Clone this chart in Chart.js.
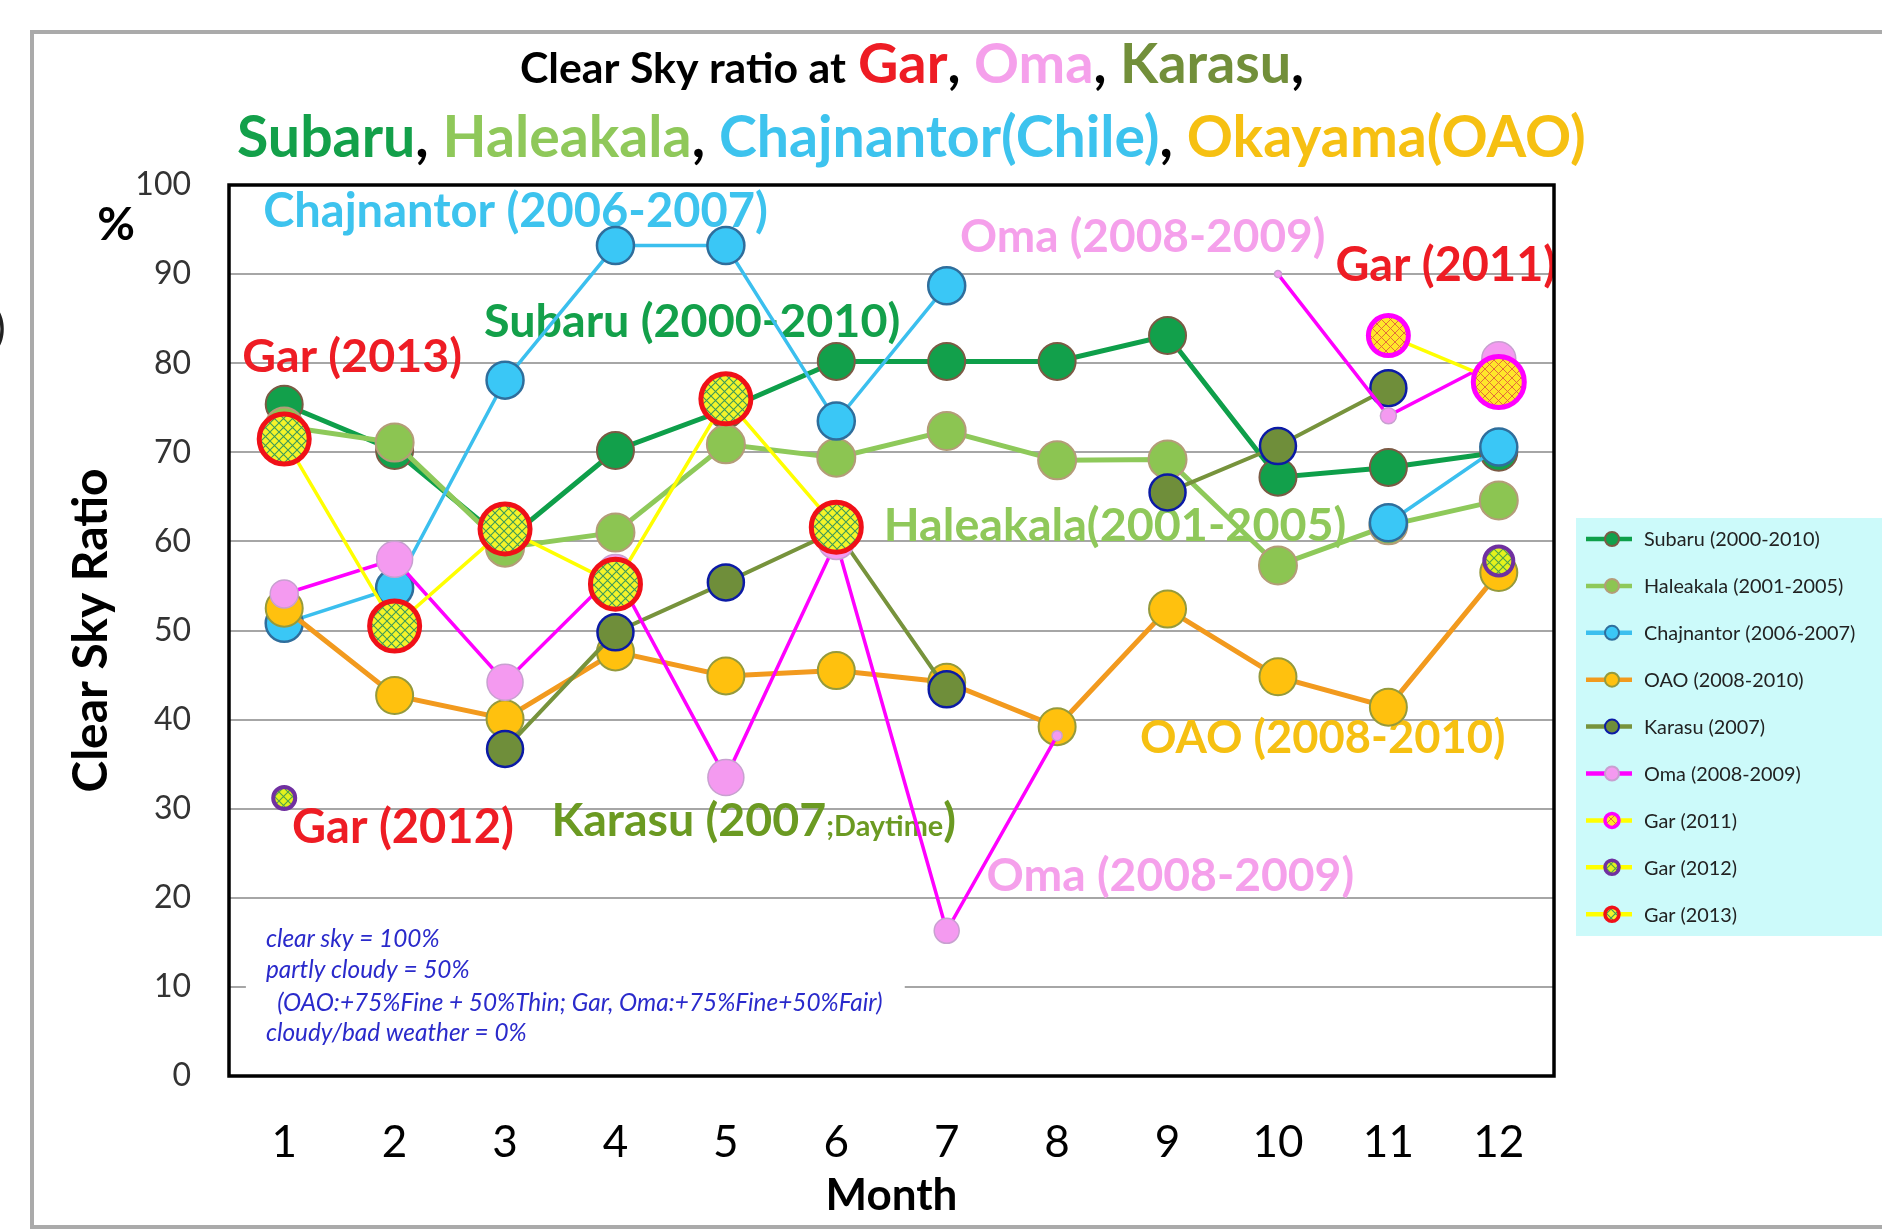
<!DOCTYPE html>
<html>
<head>
<meta charset="utf-8">
<title>Clear Sky ratio</title>
<script src="https://cdn.jsdelivr.net/npm/chart.js@4.4.1/dist/chart.umd.min.js"></script>
<style>
  html, body { margin: 0; padding: 0; background: #fff; }
  canvas { display: block; }
</style>
</head>
<body>
<canvas id="chart" width="1882" height="1230"></canvas>
<script>
/* globals Chart:false */
const months = ['1', '2', '3', '4', '5', '6', '7', '8', '9', '10', '11', '12'];

const subaru     = [75.4, 70.2, 60.0, 70.2, 74.8, 80.2, 80.2, 80.2, 83.1, 67.2, 68.3, 70.0];
const haleakala  = [72.9, 71.1, 59.3, 61.0, 70.9, 69.4, 72.4, 69.1, 69.2, 57.3, 61.8, 64.6];
const chajnantor = [50.8, 54.8, 78.1, 93.2, 93.2, 73.5, 88.7, null, null, null, 62.1, 70.6];
const oao        = [52.5, 42.7, 40.1, 47.6, 44.9, 45.5, 44.2, 39.2, 52.4, 44.8, 41.4, 56.5];
const karasu     = [null, null, 36.7, 49.8, 55.4, 61.2, 43.4, null, 65.5, 70.7, 77.2, null];
const oma        = [54.1, 58.0, 44.2, 56.5, 33.5, 60.0, 16.3, 38.2, null, 90.0, 74.1, 80.5];
const gar2011    = [null, null, null, null, null, null, null, null, null, null, 83.1, 77.9];
const gar2012    = [31.2, null, null, null, null, null, null, null, null, null, null, 57.8];
const gar2013    = [71.5, 50.5, 61.4, 55.2, 76.0, 61.6, null, null, null, null, null, null];

const canvas = document.getElementById('chart');
const ctx0 = canvas.getContext('2d');

// text size that makes a string as wide as it is in the picture
function fit(text, font, width) {
	ctx0.font = font.replace('{s}', 100);
	return 100 * width / ctx0.measureText(text).width;
}

function hatch(bg, fg, w) {
	let c = document.createElement('canvas');
	c.width = 9;
	c.height = 9;
	let g = c.getContext('2d');
	g.fillStyle = bg;
	g.fillRect(0, 0, 9, 9);
	g.strokeStyle = fg;
	g.lineWidth = w;
	g.beginPath();
	g.moveTo(0, 0); g.lineTo(9, 9);
	g.moveTo(9, 0); g.lineTo(0, 9);
	g.stroke();
	return ctx0.createPattern(c, 'repeat');
}

// in-plot labels, anchored in month / percent units
const labels = [
	{ text: 'Chajnantor (2006-2007)', color: '#3DC3EE', x0: 0.81, x1: 5.38, y: 95.3 },
	{ text: 'Subaru (2000-2010)', color: '#13A04A', x0: 2.81, x1: 6.58, y: 82.9 },
	{ text: 'Gar (2013)', color: '#EE1C24', x0: 0.62, x1: 2.61, y: 79.0 },
	{ text: 'Oma (2008-2009)', color: '#F5A0EB', x0: 7.12, x1: 10.43, y: 92.5 },
	{ text: 'Gar (2011)', color: '#EE1C24', x0: 10.52, x1: 12.52, y: 89.2 },
	{ text: 'Haleakala(2001-2005)', color: '#8FC85A', x0: 6.43, x1: 10.62, y: 60.0 },
	{ text: 'OAO (2008-2010)', color: '#F6C012', x0: 8.75, x1: 12.06, y: 36.2 },
	{ text: 'Gar (2012)', color: '#EE1C24', x0: 1.07, x1: 3.08, y: 26.1 },
	{ text: 'Oma (2008-2009)', color: '#F5A0EB', x0: 7.36, x1: 10.69, y: 20.8 }
];

const noteLines = [
	'clear sky = 100%',
	'partly cloudy = 50%',
	'  (OAO:+75%Fine + 50%Thin; Gar, Oma:+75%Fine+50%Fair)',
	'cloudy/bad weather = 0%'
];
const noteY = [14.5, 11.05, 7.35, 3.95];

function series(label, data, o) {
	return Object.assign({ label: label, data: data, tension: 0, spanGaps: false, fill: false }, o);
}

const datasets = [
	series('Subaru (2000-2010)', subaru, {
		borderColor: '#0E9F4A', borderWidth: 5, pointRadius: 18.5,
		pointBackgroundColor: '#12A04B', pointBorderColor: '#7B5A44', pointBorderWidth: 2, order: 9
	}),
	series('Haleakala (2001-2005)', haleakala, {
		borderColor: '#8EC95A', borderWidth: 5, pointRadius: 19,
		pointBackgroundColor: '#8CC552', pointBorderColor: '#B49C78', pointBorderWidth: 2, order: 8
	}),
	series('Chajnantor (2006-2007)', chajnantor, {
		borderColor: '#3BBFEE', borderWidth: 3.5, pointRadius: 18.5,
		pointBackgroundColor: '#3AC7F6', pointBorderColor: '#2F6E9C', pointBorderWidth: 2.5, order: 7
	}),
	series('OAO (2008-2010)', oao, {
		borderColor: '#F29A1E', borderWidth: 5, pointRadius: 18.5,
		pointBackgroundColor: '#FFC10E', pointBorderColor: '#959A3C', pointBorderWidth: 2, order: 6
	}),
	series('Karasu (2007)', karasu, {
		borderColor: '#77933C', borderWidth: 4, pointRadius: 18,
		pointBackgroundColor: '#6F8E3A', pointBorderColor: '#0B1AA5', pointBorderWidth: 2.5, order: 5
	}),
	series('Oma (2008-2009)', oma, {
		borderColor: '#FF00FF', borderWidth: 3.5, pointRadius: [14, 18, 18, 18, 18, 18, 12.5, 5, 0, 3.5, 8, 17],
		pointBackgroundColor: '#F49AF0', pointBorderColor: '#C8A0D0', pointBorderWidth: 1.5, order: 4
	}),
	series('Gar (2011)', gar2011, {
		borderColor: '#FFFF00', borderWidth: 3.5, pointRadius: [0, 0, 0, 0, 0, 0, 0, 0, 0, 0, 20, 25.5],
		pointBackgroundColor: hatch('#FFE62A', '#E0603C', 0.9), pointBorderColor: '#FF00FF', pointBorderWidth: 5,
		legendBorder: 3.5, order: 3
	}),
	series('Gar (2012)', gar2012, {
		borderColor: '#FFFF00', borderWidth: 3.5, showLine: false,
		pointRadius: [11, 0, 0, 0, 0, 0, 0, 0, 0, 0, 0, 14.5],
		pointBackgroundColor: hatch('#E4F21C', '#4FA24A', 1.1), pointBorderColor: '#7030A0', pointBorderWidth: 4,
		legendBorder: 3.5, order: 2
	}),
	series('Gar (2013)', gar2013, {
		borderColor: '#FFFF00', borderWidth: 3.5, pointRadius: 25,
		pointBackgroundColor: hatch('#F4F42A', '#3C9A5A', 1.1), pointBorderColor: '#F01018', pointBorderWidth: 5,
		legendBorder: 3.5, order: 1
	})
];

function drawRun(ctx, parts, x, y, font) {
	ctx.font = font;
	parts.forEach(([t, c]) => {
		ctx.fillStyle = c;
		ctx.fillText(t, x, y);
		x += ctx.measureText(t).width;
	});
}

const backdrop = {
	id: 'backdrop',
	beforeDraw(chart) {
		const ctx = chart.ctx;
		ctx.save();
		ctx.fillStyle = '#fff';
		ctx.fillRect(0, 0, chart.width, chart.height);
		ctx.strokeStyle = '#AAAAAA';
		ctx.lineWidth = 4;
		ctx.beginPath();
		ctx.moveTo(chart.width, 32);
		ctx.lineTo(32, 32);
		ctx.lineTo(32, 1227);
		ctx.lineTo(chart.width, 1227);
		ctx.stroke();
		ctx.fillStyle = '#222';
		ctx.font = '44px Lato';
		ctx.textBaseline = 'alphabetic';
		ctx.fillText(')', -6, 343);

		// two line title, coloured by site
		let s1 = fit('Clear Sky ratio at', 'bold {s}px Lato', 326);
		ctx.font = `bold ${s1}px Lato`;
		ctx.fillStyle = '#000';
		ctx.fillText('Clear Sky ratio at', 520, 83);
		let s2 = fit('Gar, Oma, Karasu,', 'bold {s}px Lato', 444);
		drawRun(ctx, [['Gar', '#EE1C24'], [', ', '#000'], ['Oma', '#F5A0EB'], [', ', '#000'],
			['Karasu', '#728F3A'], [',', '#000']], 858, 83, `bold ${s2}px Lato`);
		let s3 = fit('Subaru, Haleakala, Chajnantor(Chile), Okayama(OAO)', 'bold {s}px Lato', 1349);
		drawRun(ctx, [['Subaru', '#13A04A'], [', ', '#000'], ['Haleakala', '#8FC85A'], [', ', '#000'],
			['Chajnantor(Chile)', '#3DC3EE'], [', ', '#000'], ['Okayama(OAO)', '#F6C012']], 237, 157, `bold ${s3}px Lato`);

		const ca = chart.chartArea;
		ctx.fillStyle = '#000';
		ctx.font = 'bold 46px Lato';
		ctx.textAlign = 'center';
		ctx.fillText('%', ca.left - 113, ca.top + 55);
		ctx.restore();
	}
};

const plotExtras = {
	id: 'plotExtras',
	beforeDatasetsDraw(chart) {
		const ctx = chart.ctx;
		const xs = chart.scales.x, ys = chart.scales.y;
		const ca = chart.chartArea;
		ctx.save();
		ctx.textBaseline = 'alphabetic';

		labels.forEach(l => {
			let x0 = xs.getPixelForValue(l.x0 - 1), x1 = xs.getPixelForValue(l.x1 - 1);
			let s = fit(l.text, 'bold {s}px Lato', x1 - x0);
			ctx.font = `bold ${s}px Lato`;
			ctx.fillStyle = l.color;
			ctx.fillText(l.text, x0, ys.getPixelForValue(l.y));
		});

		// Karasu label with the small ";Daytime"
		let kx = xs.getPixelForValue(3.42 - 1), kx1 = xs.getPixelForValue(5.91 - 1);
		let ky = ys.getPixelForValue(26.9);
		let ks = fit('Karasu (2007', 'bold {s}px Lato', kx1 - kx);
		ctx.fillStyle = '#6B9A22';
		ctx.font = `bold ${ks}px Lato`;
		ctx.fillText('Karasu (2007', kx, ky);
		kx += ctx.measureText('Karasu (2007').width;
		ctx.font = `bold ${ks * 0.62}px Lato`;
		ctx.fillText(';Daytime', kx, ky);
		kx += ctx.measureText(';Daytime').width;
		ctx.font = `bold ${ks}px Lato`;
		ctx.fillText(')', kx, ky);

		// note box
		let bx0 = xs.getPixelForValue(0.653 - 1), bx1 = xs.getPixelForValue(6.62 - 1);
		let by0 = ys.getPixelForValue(17.5), by1 = ys.getPixelForValue(1.5);
		ctx.fillStyle = '#fff';
		ctx.fillRect(bx0, by0, bx1 - bx0, by1 - by0);
		let nx = xs.getPixelForValue(0.834 - 1);
		let ns = fit(noteLines[2], 'italic {s}px Lato', xs.getPixelForValue(6.42 - 1) - nx);
		ctx.font = `italic ${ns}px Lato`;
		ctx.fillStyle = '#2A2ACB';
		noteLines.forEach((t, i) => ctx.fillText(t, nx, ys.getPixelForValue(noteY[i])));

		ctx.strokeStyle = '#000';
		ctx.lineWidth = 3.5;
		ctx.strokeRect(ca.left, ca.top, ca.right - ca.left, ca.bottom - ca.top);
		ctx.restore();
	}
};

const legendBox = {
	id: 'legendBox',
	afterDraw(chart) {
		const ctx = chart.ctx;
		const left = chart.chartArea.right + 22;
		ctx.save();
		ctx.fillStyle = '#CCFAFA';
		ctx.fillRect(left, 518, chart.width - left, 418);
		let s = fit('Subaru (2000-2010)', '{s}px Lato', 176);
		ctx.font = `${s}px Lato`;
		ctx.textBaseline = 'middle';
		chart.data.datasets.forEach((ds, i) => {
			let y = 539 + i * 46.9;
			ctx.strokeStyle = ds.borderColor;
			ctx.lineWidth = 4.5;
			ctx.beginPath();
			ctx.moveTo(left + 10, y);
			ctx.lineTo(left + 56, y);
			ctx.stroke();
			ctx.beginPath();
			ctx.arc(left + 36, y, 7, 0, 2 * Math.PI);
			ctx.fillStyle = ds.pointBackgroundColor;
			ctx.fill();
			ctx.lineWidth = ds.legendBorder || 2;
			ctx.strokeStyle = ds.pointBorderColor;
			ctx.stroke();
			ctx.fillStyle = '#222';
			ctx.fillText(ds.label, left + 68, y + 1);
		});
		ctx.restore();
	}
};

let yTitleSize = fit('Clear Sky Ratio', 'bold {s}px Lato', 324);

const myChart = new Chart(canvas, {
	type: 'line',
	data: { labels: months, datasets: datasets },
	options: {
		responsive: false,
		animation: false,
		events: [],
		layout: { padding: { top: 185, right: 328, bottom: 4, left: 0 } },
		plugins: {
			legend: { display: false },
			tooltip: { enabled: false }
		},
		scales: {
			x: {
				type: 'category',
				offset: true,
				grid: { display: false, drawTicks: false },
				border: { display: false },
				ticks: { font: { family: 'Lato', size: 44 }, color: '#000', padding: 40, maxRotation: 0, autoSkip: false },
				title: {
					display: true, text: 'Month', color: '#000',
					font: { family: 'Lato', size: 44, weight: 'bold' }, padding: { top: 4 }
				},
				afterFit: s => { s.height = 150; }
			},
			y: {
				min: 0,
				max: 100,
				ticks: { stepSize: 10, font: { family: 'Lato', size: 32 }, color: '#333', padding: 38 },
				grid: { color: '#A6A6A6', lineWidth: 2, drawTicks: false },
				border: { display: false },
				title: {
					display: true, text: 'Clear Sky Ratio', color: '#000',
					font: { family: 'Lato', size: yTitleSize, weight: 'bold' },
					padding: { top: 92 - yTitleSize * 0.6 }
				},
				afterFit: s => { s.width = 229; }
			}
		}
	},
	plugins: [backdrop, plotExtras, legendBox]
});
</script>
</body>
</html>
